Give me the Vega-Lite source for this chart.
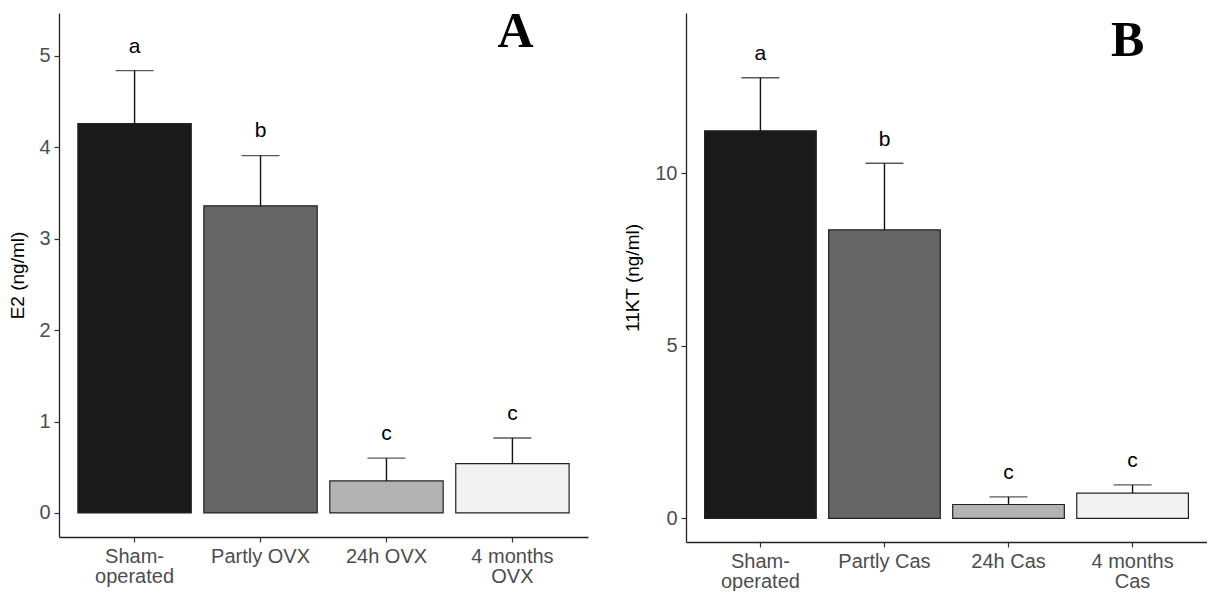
{
  "$schema": "https://vega.github.io/schema/vega-lite/v6.json",
  "background": "white",
  "padding": {"left": 8, "top": 6, "right": 0, "bottom": 0},
  "bounds": "flush",
  "spacing": 98,
  "config": {
    "view": {"stroke": null},
    "font": "Liberation Sans",
    "axis": {
      "grid": false,
      "domainColor": "#222222",
      "domainWidth": 1.3,
      "tickColor": "#333333",
      "tickWidth": 1.2,
      "tickSize": 5,
      "labelFont": "Liberation Sans",
      "labelFontSize": 20,
      "labelColor": "#4d4d4d",
      "labelPadding": 4,
      "titleFont": "Liberation Sans",
      "titleFontSize": 19,
      "titleFontWeight": "normal",
      "titleColor": "#000000"
    }
  },
  "datasets": {
    "a": [
      {"group": "Sham-|operated", "mean": 4.26, "upper": 4.84, "letter": "a", "lettery": 5.1},
      {"group": "Partly OVX", "mean": 3.36, "upper": 3.91, "letter": "b", "lettery": 4.18},
      {"group": "24h OVX", "mean": 0.35, "upper": 0.6, "letter": "c", "lettery": 0.86},
      {"group": "4 months|OVX", "mean": 0.54, "upper": 0.82, "letter": "c", "lettery": 1.08}
    ],
    "b": [
      {"group": "Sham-|operated", "mean": 11.23, "upper": 12.77, "letter": "a", "lettery": 13.46},
      {"group": "Partly Cas", "mean": 8.36, "upper": 10.29, "letter": "b", "lettery": 10.97},
      {"group": "24h Cas", "mean": 0.4, "upper": 0.62, "letter": "c", "lettery": 1.31},
      {"group": "4 months|Cas", "mean": 0.73, "upper": 0.97, "letter": "c", "lettery": 1.65}
    ],
    "pa": [{"group": "4 months|OVX", "y": 5.1, "t": "A"}],
    "pb": [{"group": "4 months|Cas", "y": 13.4, "t": "B"}]
  },
  "hconcat": [
    {
      "width": 529,
      "height": 524,
      "encoding": {
        "x": {
          "field": "group", "type": "nominal", "sort": null,
          "scale": {"domain": ["Sham-|operated", "Partly OVX", "24h OVX", "4 months|OVX"], "paddingInner": 0, "paddingOuter": 0.1},
          "axis": {"title": null, "labelAngle": 0, "labelExpr": "split(datum.label, '|')", "labelLineHeight": 20}
        }
      },
      "layer": [
        {
          "data": {"name": "a"},
          "mark": {"type": "bar", "width": {"band": 0.9}, "stroke": "#222222", "strokeWidth": 1.2},
          "encoding": {
            "y": {"field": "mean", "type": "quantitative", "scale": {"domain": [-0.263, 5.47], "nice": false, "zero": false}, "axis": {"title": "E2 (ng/ml)", "values": [0, 1, 2, 3, 4, 5], "format": "d", "minExtent": 20, "maxExtent": 20, "titlePadding": 12}},
            "color": {"field": "group", "type": "nominal", "scale": {"domain": ["Sham-|operated", "Partly OVX", "24h OVX", "4 months|OVX"], "range": ["#1a1a1a", "#666666", "#b3b3b3", "#f2f2f2"]}, "legend": null}
          }
        },
        {
          "data": {"name": "a"},
          "mark": {"type": "rule", "color": "#111111", "strokeWidth": 1.4},
          "encoding": {"y": {"field": "mean", "type": "quantitative"}, "y2": {"field": "upper"}}
        },
        {
          "data": {"name": "a"},
          "mark": {"type": "tick", "orient": "horizontal", "size": 38, "thickness": 1.4, "color": "#111111"},
          "encoding": {"y": {"field": "upper", "type": "quantitative"}}
        },
        {
          "data": {"name": "a"},
          "mark": {"type": "text", "fontSize": 21, "baseline": "middle", "color": "#000000"},
          "encoding": {"y": {"field": "lettery", "type": "quantitative"}, "text": {"field": "letter"}}
        },
        {
          "data": {"name": "pa"},
          "mark": {"type": "text", "font": "Liberation Serif", "fontWeight": "bold", "fontSize": 50, "baseline": "alphabetic", "dx": 3, "color": "#000000"},
          "encoding": {"y": {"field": "y", "type": "quantitative"}, "text": {"field": "t"}}
        }
      ]
    },
    {
      "width": 521,
      "height": 529,
      "encoding": {
        "x": {
          "field": "group", "type": "nominal", "sort": null,
          "scale": {"domain": ["Sham-|operated", "Partly Cas", "24h Cas", "4 months|Cas"], "paddingInner": 0, "paddingOuter": 0.1},
          "axis": {"title": null, "labelAngle": 0, "labelExpr": "split(datum.label, '|')", "labelLineHeight": 20}
        }
      },
      "layer": [
        {
          "data": {"name": "b"},
          "mark": {"type": "bar", "width": {"band": 0.9}, "stroke": "#222222", "strokeWidth": 1.2},
          "encoding": {
            "y": {"field": "mean", "type": "quantitative", "scale": {"domain": [-0.687, 14.646], "nice": false, "zero": false}, "axis": {"title": "11KT (ng/ml)", "values": [0, 5, 10], "format": "d", "minExtent": 32, "maxExtent": 32, "titlePadding": 12}},
            "color": {"field": "group", "type": "nominal", "scale": {"domain": ["Sham-|operated", "Partly Cas", "24h Cas", "4 months|Cas"], "range": ["#1a1a1a", "#666666", "#b3b3b3", "#f2f2f2"]}, "legend": null}
          }
        },
        {
          "data": {"name": "b"},
          "mark": {"type": "rule", "color": "#111111", "strokeWidth": 1.4},
          "encoding": {"y": {"field": "mean", "type": "quantitative"}, "y2": {"field": "upper"}}
        },
        {
          "data": {"name": "b"},
          "mark": {"type": "tick", "orient": "horizontal", "size": 38, "thickness": 1.4, "color": "#111111"},
          "encoding": {"y": {"field": "upper", "type": "quantitative"}}
        },
        {
          "data": {"name": "b"},
          "mark": {"type": "text", "fontSize": 21, "baseline": "middle", "color": "#000000"},
          "encoding": {"y": {"field": "lettery", "type": "quantitative"}, "text": {"field": "letter"}}
        },
        {
          "data": {"name": "pb"},
          "mark": {"type": "text", "font": "Liberation Serif", "fontWeight": "bold", "fontSize": 50, "baseline": "alphabetic", "dx": -5, "color": "#000000"},
          "encoding": {"y": {"field": "y", "type": "quantitative"}, "text": {"field": "t"}}
        }
      ]
    }
  ],
  "resolve": {"scale": {"color": "independent", "x": "independent", "y": "independent"}}
}
